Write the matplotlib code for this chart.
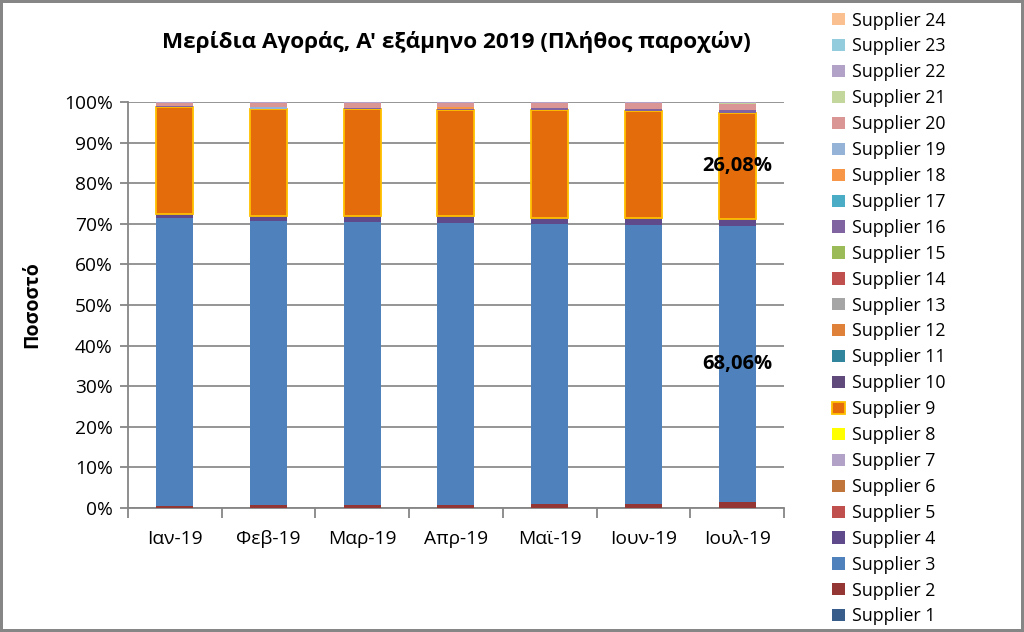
import matplotlib
matplotlib.use("Agg")
import matplotlib.pyplot as plt
from matplotlib.patches import Patch
import numpy as np

plt.rcParams['font.family'] = ['Open Sans', 'DejaVu Sans']

months = ["Ιαν-19", "Φεβ-19", "Μαρ-19", "Απρ-19", "Μαϊ-19", "Ιουν-19", "Ιουλ-19"]
suppliers = [f"Supplier {i}" for i in range(1, 25)]

# shares in percent, per supplier (index 0 = Supplier 1)
s1 = [0.0, 0.0, 0.0, 0.0, 0.0, 0.0, 0.0]
s2 = [0.5, 0.8, 0.8, 0.8, 1.1, 1.1, 1.4]
s3 = [70.9, 70.0, 69.7, 69.5, 68.8, 68.7, 68.06]
s4 = [1.0, 1.2, 1.5, 1.5, 1.6, 1.7, 1.7]
s9 = [26.4, 26.4, 26.2, 26.2, 26.5, 26.3, 26.08]
s16 = [0.2, 0.0, 0.3, 0.4, 0.5, 0.5, 0.8]
s18 = [0.0, 0.0, 0.0, 0.3, 0.0, 0.0, 0.0]
s19 = [0.0, 0.4, 0.0, 0.0, 0.0, 0.0, 0.0]
s20 = [0.8, 1.0, 1.3, 1.1, 1.3, 1.5, 1.5]
s21 = [0.0, 0.0, 0.0, 0.0, 0.0, 0.0, 0.26]
s22 = [0.2, 0.2, 0.2, 0.2, 0.2, 0.2, 0.2]
zero = [0.0] * 7

values = {
    1: s1, 2: s2, 3: s3, 4: s4, 9: s9, 16: s16, 18: s18,
    19: s19, 20: s20, 21: s21, 22: s22,
}
series = [values.get(i, zero) for i in range(1, 25)]

colors = ["#385D8A", "#943634", "#4F81BD", "#5F4B8B", "#C0504D", "#C0753A",
          "#B3A2C7", "#FFFF00", "#E46C0A", "#604A7B", "#31859C", "#E0813A",
          "#A5A5A5", "#C0504D", "#9BBB59", "#8064A2", "#4BACC6", "#F79646",
          "#95B3D7", "#D99694", "#C3D69B", "#B3A2C7", "#93CDDD", "#FAC090"]

fig = plt.figure(figsize=(10.24, 6.32), dpi=100, edgecolor="#868686", linewidth=3)
ax = fig.add_axes([0.125, 0.1962, 0.6406, 0.6424])

x = np.arange(len(months))
bottom = np.zeros(len(months))
handles = []
for i, vals in enumerate(series):
    vals = np.array(vals)
    if i == 8:
        ax.bar(x, vals, width=0.395, bottom=bottom, color=colors[i],
               edgecolor="#FFC000", linewidth=1.3, zorder=3)
        handles.append(Patch(facecolor=colors[i], edgecolor="#FFC000", linewidth=1.3))
    else:
        ax.bar(x, vals, width=0.395, bottom=bottom, color=colors[i],
               linewidth=0, zorder=3)
        handles.append(Patch(facecolor=colors[i], edgecolor="none"))
    if i in (2, 8):
        j = len(months) - 1
        ax.text(x[j], bottom[j] + vals[j] / 2, f"{vals[j]:.2f}%".replace(".", ","),
                ha="center", va="center", fontsize=14.5, fontweight="bold", zorder=5)
    bottom += vals

ax.set_xlim(-0.5, len(months) - 0.5)
ax.set_ylim(0, 100)
ax.set_yticks(np.arange(0, 101, 10))
ax.set_yticklabels([f"{v}%" for v in range(0, 101, 10)], fontsize=13.8)
ax.set_xticks(x)
ax.set_xticklabels(months, fontsize=13.8)
ax.set_xticks(np.arange(-0.5, len(months), 1), minor=True)
ax.tick_params(axis="x", which="major", length=0, pad=16)
ax.tick_params(axis="x", which="minor", length=7, width=1.3, color="#868686", direction="out")
ax.tick_params(axis="y", length=6, width=1.3, color="#868686", direction="out", pad=5)
ax.grid(axis="y", color="#8C8C8C", linewidth=1.3, zorder=0)
ax.set_axisbelow(True)
for side in ("top", "right"):
    ax.spines[side].set_visible(False)
for side in ("left", "bottom"):
    ax.spines[side].set_color("#868686")
    ax.spines[side].set_linewidth(1.3)

ax.set_ylabel("Ποσοστό", fontsize=14, fontweight="bold")
ax.yaxis.set_label_coords(-86 / 656, 0.5)

fig.text(0.4453, 1 - 42 / 632, "Μερίδια Αγοράς, Α' εξάμηνο 2019 (Πλήθος παροχών)",
         ha="center", va="center", fontsize=16.2, fontweight="bold")

fig.legend(handles[::-1], suppliers[::-1], loc="upper left",
           bbox_to_anchor=(0.806, 0.993), frameon=False, fontsize=12.8,
           handlelength=0.68, handleheight=0.68, handletextpad=0.42,
           labelspacing=0.445, borderaxespad=0)

fig.savefig("out.png", dpi=100)
